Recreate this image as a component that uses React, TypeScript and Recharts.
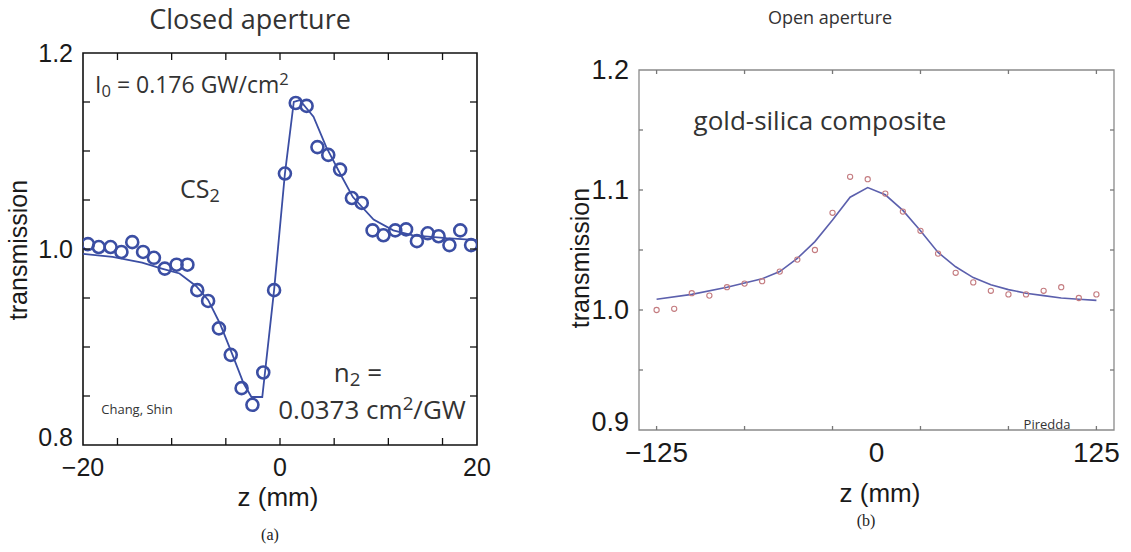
import React from "react";
import { ComposedChart, Line, Scatter, XAxis, YAxis, ReferenceArea } from "recharts";

// (a) closed aperture, CS2 - measured points
const closedZ = [
  -19.5, -18.4, -17.2, -16.1, -15.0, -13.9, -12.8, -11.7, -10.5, -9.4,
  -8.4, -7.3, -6.2, -5.0, -3.9, -2.8, -1.7, -0.6, 0.5, 1.6,
  2.7, 3.8, 4.9, 6.1, 7.3, 8.3, 9.4, 10.5, 11.7, 12.8,
  13.9, 15.0, 16.1, 17.2, 18.3, 19.4,
];
const closedT = [
  1.005, 1.002, 1.002, 0.997, 1.007, 0.997, 0.991, 0.98, 0.984, 0.984,
  0.958, 0.947, 0.919, 0.892, 0.858, 0.841, 0.874, 0.958, 1.077, 1.149,
  1.146, 1.104, 1.096, 1.081, 1.052, 1.047, 1.019, 1.014, 1.019, 1.02,
  1.008, 1.016, 1.013, 1.004, 1.019, 1.004,
];
// (a) fitted curve
const closedFitZ = [-20, -17, -14, -12, -10.2, -8.5, -7.3, -6.1, -4.9, -3.7, -2.9, -1.8, -0.6, 0.5, 1.4, 2.0, 3.4, 4.7, 6.1, 7.4, 9.5, 11.5, 13.5, 16.9, 20];
const closedFitT = [0.995, 0.992, 0.986, 0.98, 0.975, 0.962, 0.948, 0.924, 0.894, 0.863, 0.849, 0.849, 0.958, 1.077, 1.15, 1.152, 1.135, 1.104, 1.077, 1.053, 1.03, 1.019, 1.014, 1.011, 1.009];

const closedXTicks = [-20, -16.5, -11, -5.5, 0, 5.5, 11, 16.5, 20];
const closedXMarks = [-16.5, -11, -5.5, 0, 5.5, 11, 16.5];
const closedXLabels = [-20, 0, 20];
const closedYTicks = [0.8, 0.85, 0.9, 0.95, 1.0, 1.05, 1.1, 1.15, 1.2];
const closedYLabels = [0.8, 1.0, 1.2];

// (b) open aperture, gold-silica composite - measured points
const openZ = [-125, -115, -105, -95, -85, -75, -65, -55, -45, -35, -25, -15, -5, 5, 15, 25, 35, 45, 55, 65, 75, 85, 95, 105, 115, 125];
const openT = [
  1.0, 1.001, 1.014, 1.012, 1.019, 1.022, 1.024, 1.032, 1.042, 1.05,
  1.081, 1.111, 1.109, 1.097, 1.082, 1.066, 1.047, 1.031, 1.023, 1.016,
  1.013, 1.013, 1.016, 1.019, 1.01, 1.013,
];
// (b) fitted curve
const openFitZ = [-125, -105, -85, -65, -55, -45, -35, -25, -15, -5, 5, 15, 25, 35, 45, 55, 65, 75, 85, 95, 105, 115, 125];
const openFitT = [1.009, 1.013, 1.019, 1.026, 1.032, 1.043, 1.057, 1.075, 1.094, 1.102, 1.096, 1.083, 1.066, 1.048, 1.036, 1.027, 1.021, 1.017, 1.014, 1.012, 1.01, 1.009, 1.008];

const openXTicks = [-125, -75, -25, 0, 25, 75, 125];
const openXMarks = [-125, -75, -25, 25, 75, 125];
const openXLabels = [-125, 0, 125];
const openYTicks = [0.9, 0.95, 1.0, 1.05, 1.1, 1.15, 1.2];
const openYLabels = [0.9, 1.0, 1.1, 1.2];

const zip = (xs: number[], ys: number[]) => xs.map((z, i) => ({ z, t: ys[i] }));
const has = (list: number[], v: number) => list.some((l) => Math.abs(l - v) < 1e-9);
const fmtX = (v: number) => (v < 0 ? "\u2212" + Math.abs(v) : String(v));

interface TickStyle {
  marks: number[];
  labels: number[];
  span: number; // plot size across the axis, for the opposite-side tick
  len: number;
  stroke: string;
  font: string;
  size: number;
  min: number;
}

/**
 * Bottom axis tick: inward marks at bottom and top, label below
 */
function makeXTick(s: TickStyle) {
  return (props: any) => {
    const { x, y, payload } = props;
    const v = payload.value;
    return (
      <g>
        {has(s.marks, v) && (
          <>
            <line x1={x} y1={y} x2={x} y2={y - s.len} stroke={s.stroke} strokeWidth={1.3} />
            <line x1={x} y1={y - s.span} x2={x} y2={y - s.span + s.len} stroke={s.stroke} strokeWidth={1.3} />
          </>
        )}
        {has(s.labels, v) && (
          <text x={x} y={y + 22} textAnchor="middle" dominantBaseline="central" fontFamily={s.font} fontSize={s.size} fill="#1a1a1a">
            {fmtX(v)}
          </text>
        )}
      </g>
    );
  };
}

/**
 * Left axis tick: inward marks on left and right borders, label to the left
 */
function makeYTick(s: TickStyle) {
  return (props: any) => {
    const { x, y, payload } = props;
    const v = payload.value;
    // bottom label sits just above the corner, like the original
    const dy = Math.abs(v - s.min) < 1e-9 ? -8 : 0;
    return (
      <g>
        {has(s.marks, v) && (
          <>
            <line x1={x} y1={y} x2={x + s.len} y2={y} stroke={s.stroke} strokeWidth={1.3} />
            <line x1={x + s.span} y1={y} x2={x + s.span - s.len} y2={y} stroke={s.stroke} strokeWidth={1.3} />
          </>
        )}
        {has(s.labels, v) && (
          <text x={x - 10} y={y + dy} textAnchor="end" dominantBaseline="central" fontFamily={s.font} fontSize={s.size} fill="#1a1a1a">
            {v.toFixed(1)}
          </text>
        )}
      </g>
    );
  };
}

function Txt({ x, y, size, family = "'Open Sans', sans-serif", color = "#333", anchor = "middle", rotate = false, children }: any) {
  const tx = anchor === "start" ? "0" : "-50%";
  return (
    <div
      style={{
        position: "absolute",
        left: x,
        top: y,
        transform: `translate(${tx}, -50%)${rotate ? " rotate(-90deg)" : ""}`,
        fontFamily: family,
        fontSize: size,
        color,
        lineHeight: 1,
        whiteSpace: "nowrap",
      }}
    >
      {children}
    </div>
  );
}

const sub = (t: string) => <span style={{ fontSize: "0.72em", verticalAlign: "-0.25em" }}>{t}</span>;
const sup = (t: string) => <span style={{ fontSize: "0.72em", verticalAlign: "0.5em" }}>{t}</span>;

const BLUE = "#3b4ea3";
const SANS = "'Liberation Sans', Arial, sans-serif";
const NARROW = "'Liberation Sans Narrow', 'Arial Narrow', 'Liberation Sans', sans-serif";

function ClosedApertureChart() {
  const W = 560, H = 552;
  // axes get 1px so they still render; plot box spans x 83..477, y 53..445
  const margin = { top: 53, left: 82, right: 83, bottom: 106 };
  const plotW = W - margin.left - 1 - margin.right;
  const plotH = H - margin.top - margin.bottom - 1;
  const xs: TickStyle = { marks: closedXMarks, labels: closedXLabels, span: plotH, len: 7, stroke: "#111", font: SANS, size: 25, min: -20 };
  const ys: TickStyle = { marks: closedYTicks.slice(1, -1), labels: closedYLabels, span: plotW, len: 7, stroke: "#111", font: SANS, size: 25, min: 0.8 };
  return (
    <div style={{ position: "absolute", left: 0, top: 0 }}>
      <ComposedChart width={W} height={H} margin={margin}>
        <XAxis dataKey="z" type="number" domain={[-20, 20]} allowDataOverflow ticks={closedXTicks} interval={0}
          height={1} tickSize={0} tickMargin={0} axisLine={false} tick={makeXTick(xs)} />
        <YAxis dataKey="t" type="number" domain={[0.8, 1.2]} allowDataOverflow ticks={closedYTicks} interval={0}
          width={1} tickSize={0} tickMargin={0} axisLine={false} tick={makeYTick(ys)} />
        <ReferenceArea x1={-20} x2={20} y1={0.8} y2={1.2} fill="none" stroke="#111" strokeWidth={1.6} />
        <Line data={zip(closedFitZ, closedFitT)} dataKey="t" type="linear" stroke={BLUE} strokeWidth={1.8} dot={false} isAnimationActive={false} />
        <Scatter data={zip(closedZ, closedT)} isAnimationActive={false}
          shape={(p: any) => <circle cx={p.cx} cy={p.cy} r={6} fill="none" stroke={BLUE} strokeWidth={2.6} />} />
      </ComposedChart>
    </div>
  );
}

function OpenApertureChart() {
  const W = 571, H = 552;
  // plot box spans x 639..1114, y 70..430 in page pixels
  const margin = { top: 70, left: 78, right: 17, bottom: 121 };
  const plotW = W - margin.left - 1 - margin.right;
  const plotH = H - margin.top - margin.bottom - 1;
  const xs: TickStyle = { marks: openXMarks, labels: openXLabels, span: plotH, len: 4, stroke: "#777", font: NARROW, size: 28, min: -135 };
  const ys: TickStyle = { marks: openYTicks.slice(1, -1), labels: openYLabels, span: plotW, len: 4, stroke: "#777", font: NARROW, size: 27, min: 0.9 };
  return (
    <div style={{ position: "absolute", left: 560, top: 0 }}>
      <ComposedChart width={W} height={H} margin={margin}>
        <XAxis dataKey="z" type="number" domain={[-135, 135]} allowDataOverflow ticks={openXTicks} interval={0}
          height={1} tickSize={0} tickMargin={0} axisLine={false} tick={makeXTick(xs)} />
        <YAxis dataKey="t" type="number" domain={[0.9, 1.2]} allowDataOverflow ticks={openYTicks} interval={0}
          width={1} tickSize={0} tickMargin={0} axisLine={false} tick={makeYTick(ys)} />
        <ReferenceArea x1={-135} x2={135} y1={0.9} y2={1.2} fill="none" stroke="#8a8a8a" strokeWidth={1.3} />
        <Line data={zip(openFitZ, openFitT)} dataKey="t" type="linear" stroke="#5c60ad" strokeWidth={1.6} dot={false} isAnimationActive={false} />
        <Scatter data={zip(openZ, openT)} isAnimationActive={false}
          shape={(p: any) => <circle cx={p.cx} cy={p.cy} r={2.6} fill="none" stroke="#c47c80" strokeWidth={1.1} />} />
      </ComposedChart>
    </div>
  );
}

export default function App() {
  return (
    <div style={{ position: "absolute", left: 0, top: 0, width: 1131, height: 552, background: "#fff", overflow: "hidden" }}>
      <ClosedApertureChart />
      <OpenApertureChart />

      <Txt x={250} y={18} size={27}>Closed aperture</Txt>
      <Txt x={830} y={17} size={18}>Open aperture</Txt>

      <Txt x={18} y={250} size={25} family={SANS} color="#1a1a1a" rotate>transmission</Txt>
      <Txt x={580} y={258} size={25} family={SANS} color="#1a1a1a" rotate>transmission</Txt>

      <Txt x={278} y={497} size={26} family={NARROW} color="#1a1a1a">z (mm)</Txt>
      <Txt x={880} y={493} size={26} family={NARROW} color="#1a1a1a">z (mm)</Txt>
      <Txt x={270} y={535} size={16} family="'Liberation Serif', serif" color="#222">(a)</Txt>
      <Txt x={866} y={521} size={16} family="'Liberation Serif', serif" color="#222">(b)</Txt>

      <Txt x={95} y={85} size={23} anchor="start">I{sub("0")} = 0.176 GW/cm{sup("2")}</Txt>
      <Txt x={200} y={190} size={25}>CS{sub("2")}</Txt>
      <Txt x={358} y={374} size={26}>n{sub("2")} =</Txt>
      <Txt x={372} y={408} size={26}>0.0373 cm{sup("2")}/GW</Txt>
      <Txt x={137} y={409} size={13}>Chang, Shin</Txt>

      <Txt x={820} y={120} size={26}>gold-silica composite</Txt>
      <Txt x={1047} y={424} size={13}>Piredda</Txt>
    </div>
  );
}
